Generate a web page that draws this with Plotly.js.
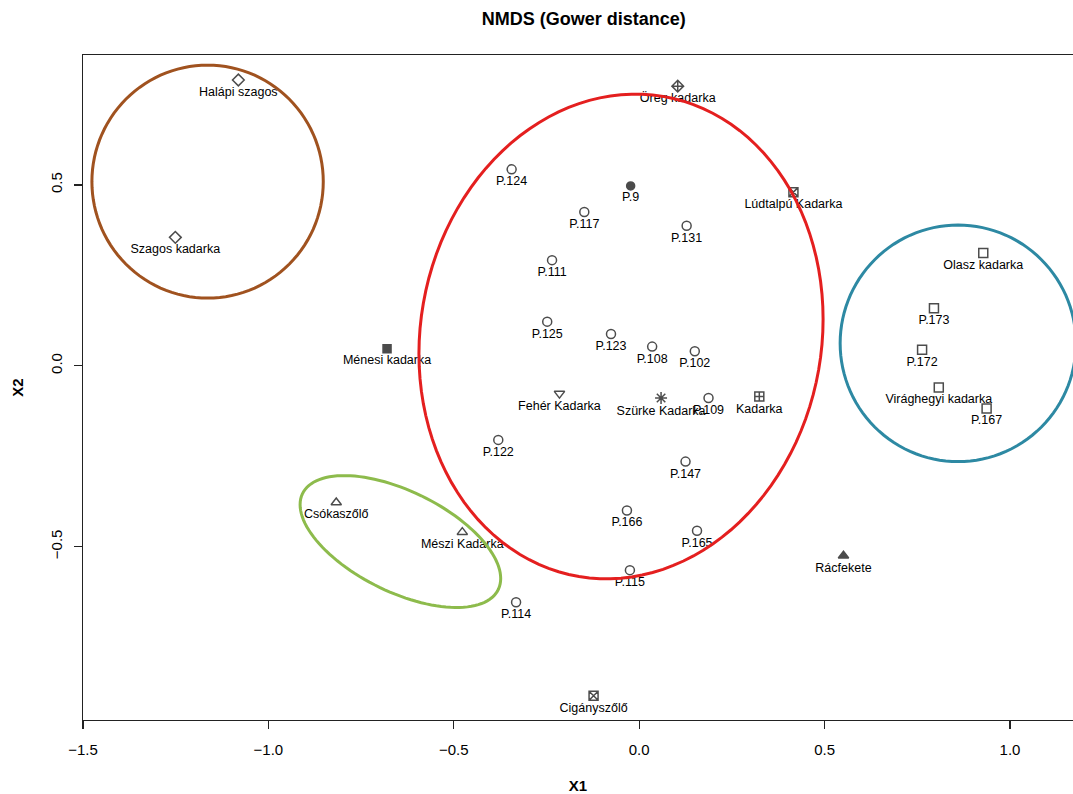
<!DOCTYPE html>
<html>
<head>
<meta charset="utf-8">
<script src="https://cdn.plot.ly/plotly-3.0.1.min.js"></script>
<style>html,body{margin:0;padding:0;background:#fff;}#chart{width:1073px;height:794px;}</style>
</head>
<body>
<div id="chart"></div>
<script>
// ---- data ----
const names = ["Halápi szagos","Szagos kadarka","Öreg kadarka","P.124","P.9","P.117","P.131","P.111",
  "Lúdtalpú Kadarka","Olasz kadarka","P.173","P.172","Virághegyi kadarka","P.167","P.125","Ménesi kadarka",
  "P.123","P.108","P.102","Fehér Kadarka","Szürke Kadarka","P.109","Kadarka","P.122","P.147",
  "Csókaszőlő","Mészi Kadarka","P.166","P.165","P.115","P.114","Cigányszőlő","Rácfekete"];
const x1 = [-1.081,-1.251,0.104,-0.344,-0.023,-0.148,0.128,-0.235,
  0.416,0.928,0.795,0.763,0.808,0.937,-0.248,-0.680,
  -0.076,0.035,0.150,-0.215,0.059,0.187,0.324,-0.380,0.125,
  -0.817,-0.477,-0.033,0.156,-0.025,-0.332,-0.123,0.551];
const x2 = [0.790,0.355,0.773,0.543,0.497,0.425,0.387,0.292,
  0.480,0.312,0.159,0.044,-0.060,-0.118,0.122,0.047,
  0.088,0.053,0.040,-0.077,-0.089,-0.089,-0.085,-0.205,-0.265,
  -0.378,-0.460,-0.400,-0.456,-0.565,-0.654,-0.912,-0.525];
const group = ["szagos","szagos","oreg","P","P9","P","P","P",
  "ludtalpu","olasz","olasz","olasz","olasz","olasz","P","menesi",
  "P","P","P","feher","szurke","P","kadarka","P","P",
  "meszi","meszi","P","P","P","P","cigany","racfekete"];
const xTicks = [-1.5,-1.0,-0.5,0.0,0.5,1.0];
const yTicks = [-0.5,0.0,0.5];
const xTickText = ["\u22121.5","\u22121.0","\u22120.5","0.0","0.5","1.0"];
const yTickText = ["\u22120.5","0.0","0.5"];

// ---- styles ----
const symbolOf = {szagos:"diamond-open", oreg:"diamond-cross-open", P:"circle-open", P9:"circle",
  ludtalpu:"square-x-open", olasz:"square-open", menesi:"square", feher:"triangle-down-open",
  szurke:"asterisk-open", kadarka:"square-cross-open", meszi:"triangle-up-open",
  cigany:"square-x-open", racfekete:"triangle-up"};
const sizeOf = {P9:8, menesi:8, racfekete:9, szurke:10};

// ---- group ellipses (center, spread in data units, covariance) ----
const ellipses = [
  {cx:-1.164, cy:0.509, sx:0.312, sy:0.322, cxy:0.0,    color:"#A0521F"},
  {cx:-0.049, cy:0.081, sx:0.545, sy:0.670, cxy:0.0261, color:"#E41F1F"},
  {cx:0.860,  cy:0.062, sx:0.318, sy:0.327, cxy:0.0,    color:"#2D89A3"},
  {cx:-0.644, cy:-0.486,sx:0.2705,sy:0.1823,cxy:-0.0276,color:"#8DBB4C"}
];
function ellipsePath(e){
  const n = 120, a = e.sx, b21 = e.cxy / e.sx, b22 = Math.sqrt(e.sy*e.sy - b21*b21);
  let p = "";
  for(let i=0;i<=n;i++){
    const t = 2*Math.PI*i/n, c = Math.cos(t), s = Math.sin(t);
    const x = e.cx + a*c, y = e.cy + b21*c + b22*s;
    p += (i===0?"M":"L") + x.toFixed(5) + "," + y.toFixed(5);
  }
  return p + "Z";
}

const font = "Liberation Sans, Arial, Helvetica, sans-serif";
const trace = {
  type:"scatter", mode:"markers+text", x:x1, y:x2, text:names,
  textposition:"bottom center", cliponaxis:false,
  textfont:{family:font, size:12.5, color:"#000"},
  marker:{symbol:group.map(g=>symbolOf[g]), size:group.map(g=>sizeOf[g]||9),
          color:"#000", line:{color:"#000", width:1.5}},
  hoverinfo:"text", showlegend:false
};

const layout = {
  width:1073, height:794,
  margin:{l:83, r:0, t:55, b:74},
  paper_bgcolor:"#fff", plot_bgcolor:"#fff",
  font:{family:font, color:"#000"},
  title:{text:"<b>NMDS (Gower distance)</b>", x:0.544, xref:"container", y:0.977, yref:"container",
         xanchor:"center", yanchor:"middle", font:{family:font, size:18, color:"#000"}},
  xaxis:{range:[-1.5, 1.17], showgrid:false, zeroline:false, showline:true, mirror:true,
         linecolor:"#222", linewidth:1.3, ticks:"outside", ticklen:8, tickwidth:1.2, tickcolor:"#222",
         tickvals:xTicks, ticktext:xTickText, tickfont:{size:15, family:font}, ticklabelstandoff:8,
         title:{text:"<b>X1</b>", font:{size:15, family:font}, standoff:24}},
  yaxis:{range:[-0.9793, 0.8591], showgrid:false, zeroline:false, showline:true, mirror:false,
         linecolor:"#222", linewidth:1.3, ticks:"outside", ticklen:8, tickwidth:1.2, tickcolor:"#222",
         tickvals:yTicks, ticktext:yTickText, tickangle:-90, tickfont:{size:15, family:font}, ticklabelstandoff:6,
         title:{text:"<b>X2</b>", font:{size:15, family:font}, standoff:20}},
  shapes: ellipses.map(e=>({type:"path", xref:"x", yref:"y", path:ellipsePath(e),
         line:{color:e.color, width:3}, fillcolor:"rgba(0,0,0,0)", layer:"above"}))
};

Plotly.newPlot("chart", [trace], layout, {displayModeBar:false, staticPlot:true});
</script>
</body>
</html>
